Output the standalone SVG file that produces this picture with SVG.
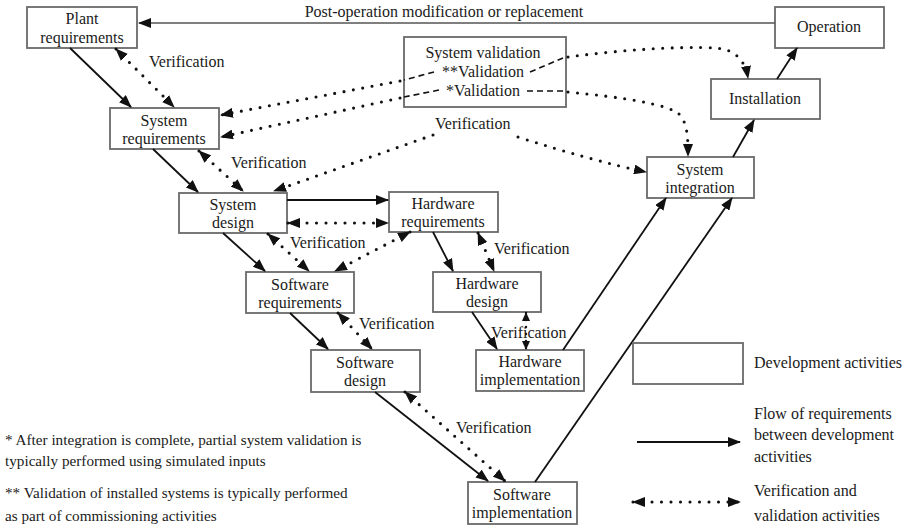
<svg xmlns="http://www.w3.org/2000/svg" width="913" height="528" viewBox="0 0 913 528">
<style>
.box{fill:#fff;stroke:#6a6a6a;stroke-width:1.8}
.t{font-family:"Liberation Serif","Times New Roman",serif;font-size:16px;fill:#1a1a1a;text-anchor:middle}
.l{text-anchor:start}
.fn{font-size:15.2px}
.flow{stroke:#111;stroke-width:1.8;fill:none;marker-end:url(#ah)}
.dot{stroke:#111;stroke-width:3.1;stroke-linecap:round;stroke-dasharray:0 9.5;fill:none}
.v2{marker-start:url(#dh);marker-end:url(#dh)}
.v1{marker-end:url(#dh)}
.dash{stroke:#111;stroke-width:1.6;stroke-dasharray:6 4;fill:none}
</style>
<defs>
<marker id="ah" markerUnits="userSpaceOnUse" markerWidth="14" markerHeight="10" refX="12" refY="5" orient="auto"><path d="M0,0 L13,5 L0,10 z" fill="#111"/></marker>
<marker id="dh" markerUnits="userSpaceOnUse" markerWidth="14" markerHeight="10" refX="12" refY="5" orient="auto-start-reverse"><path d="M0,0 L13,5 L0,10 z" fill="#111"/></marker>
<marker id="dhs" markerUnits="userSpaceOnUse" markerWidth="9" markerHeight="8" refX="8" refY="4" orient="auto-start-reverse"><path d="M0,0 L9,4 L0,8 z" fill="#111"/></marker>
</defs>

<g id="plant-requirements"><rect class="box" x="27" y="7" width="110" height="41"/><text class="t" x="82" y="24">Plant</text><text class="t" x="82" y="43">requirements</text></g>
<g id="system-requirements"><rect class="box" x="110" y="108" width="109" height="41"/><text class="t" x="164" y="126">System</text><text class="t" x="164" y="144">requirements</text></g>
<g id="system-design"><rect class="box" x="179" y="193" width="108" height="40"/><text class="t" x="233" y="210">System</text><text class="t" x="233" y="228">design</text></g>
<g id="hardware-requirements"><rect class="box" x="389" y="192" width="109" height="40"/><text class="t" x="443" y="209">Hardware</text><text class="t" x="443" y="227">requirements</text></g>
<g id="software-requirements"><rect class="box" x="246" y="272" width="108" height="41"/><text class="t" x="300" y="290">Software</text><text class="t" x="300" y="308">requirements</text></g>
<g id="hardware-design"><rect class="box" x="433" y="272" width="108" height="40"/><text class="t" x="487" y="289">Hardware</text><text class="t" x="487" y="307">design</text></g>
<g id="hardware-implementation"><rect class="box" x="476" y="350" width="108" height="41"/><text class="t" x="530" y="367">Hardware</text><text class="t" x="530" y="385">implementation</text></g>
<g id="software-design"><rect class="box" x="311" y="350" width="109" height="42"/><text class="t" x="365" y="368">Software</text><text class="t" x="365" y="386">design</text></g>
<g id="software-implementation"><rect class="box" x="468" y="482" width="109" height="42"/><text class="t" x="522" y="500">Software</text><text class="t" x="522" y="518">implementation</text></g>
<g id="system-integration"><rect class="box" x="647" y="157" width="107" height="41"/><text class="t" x="700" y="175">System</text><text class="t" x="700" y="193">integration</text></g>
<g id="installation"><rect class="box" x="711" y="79" width="109" height="40"/><text class="t" x="765" y="104">Installation</text></g>
<g id="operation"><rect class="box" x="775" y="7" width="109" height="41"/><text class="t" x="829" y="32">Operation</text></g>
<g id="system-validation"><rect class="box" x="404" y="37" width="162" height="70"/><text class="t" x="483" y="58">System validation</text><text class="t" x="483" y="77">**Validation</text><text class="t" x="483" y="96">*Validation</text></g>

<g id="connectors">
  <line x1="775" y1="23" x2="139" y2="23" stroke="#555" stroke-width="1.3" marker-end="url(#ah)"/>
  <line class="flow" x1="70" y1="48" x2="131" y2="107"/>
  <line class="flow" x1="153" y1="149" x2="198" y2="192"/>
  <line class="flow" x1="287" y1="200" x2="388" y2="200"/>
  <line class="flow" x1="223" y1="233" x2="265" y2="271"/>
  <line class="flow" x1="290" y1="313" x2="328" y2="349"/>
  <line class="flow" x1="375" y1="392" x2="488" y2="481"/>
  <line class="flow" x1="433" y1="232" x2="453" y2="271"/>
  <line class="flow" x1="472" y1="312" x2="497" y2="349"/>
  <line class="flow" x1="563" y1="350" x2="666" y2="198" stroke-width="1.5"/>
  <line class="flow" x1="535" y1="482" x2="732" y2="198" stroke-width="1.5"/>
  <line class="flow" x1="733" y1="157" x2="754" y2="120"/>
  <line class="flow" x1="777" y1="79" x2="797" y2="48"/>
  <line class="dot v2" x1="116" y1="49" x2="174" y2="107"/>
  <line class="dot v2" x1="199" y1="151" x2="243" y2="191"/>
  <line class="dot v2" x1="288" y1="223" x2="388" y2="223"/>
  <line class="dot v2" x1="268" y1="234" x2="309" y2="271"/>
  <line class="dot v2" x1="410" y1="232" x2="335" y2="271"/>
  <line class="dot v2" x1="478" y1="233" x2="494" y2="271"/>
  <line x1="526" y1="313" x2="526" y2="349" stroke="#111" stroke-width="2.4" stroke-linecap="round" stroke-dasharray="0 7" marker-start="url(#dhs)" marker-end="url(#dhs)"/>
  <line class="dot v2" x1="338" y1="313" x2="372" y2="349"/>
  <line class="dot v2" x1="405" y1="392" x2="505" y2="481"/>
  <line class="dot v1" x1="433" y1="135" x2="274" y2="191"/>
  <path class="dot v1" d="M518,137 Q590,160 646,172"/>
  <line class="dash" x1="434" y1="72" x2="404" y2="80"/>
  <line class="dot v1" x1="400" y1="81" x2="221" y2="115"/>
  <line class="dash" x1="439" y1="90" x2="404" y2="97"/>
  <line class="dot v1" x1="400" y1="98" x2="221" y2="137"/>
  <line class="dash" x1="530" y1="72" x2="563" y2="58"/>
  <path class="dot v1" d="M568,57 C620,50 680,46 715,48 C735,49 745,60 748,78"/>
  <line class="dash" x1="527" y1="91" x2="563" y2="91"/>
  <path class="dot v1" d="M568,92 C620,97 668,104 679,114 C688,123 688,140 688,156"/>
  <line class="flow" x1="637" y1="442" x2="740" y2="442"/>
  <line class="dot v2" x1="633" y1="502" x2="740" y2="502"/>
</g>

<g id="labels">
  <text class="t" x="444" y="17">Post-operation modification or replacement</text>
  <text class="t l" x="149" y="67">Verification</text>
  <text class="t l" x="231" y="168">Verification</text>
  <text class="t l" x="435" y="129">Verification</text>
  <text class="t l" x="290" y="248">Verification</text>
  <text class="t l" x="494" y="254">Verification</text>
  <text class="t l" x="491" y="338">Verification</text>
  <text class="t l" x="359" y="329">Verification</text>
  <text class="t l" x="456" y="433">Verification</text>
</g>

<g id="legend">
  <rect class="box" x="633" y="343" width="110" height="41"/>
  <text class="t l" x="754" y="368">Development activities</text>
  <text class="t l" x="754" y="419">Flow of requirements</text>
  <text class="t l" x="754" y="440">between development</text>
  <text class="t l" x="754" y="462">activities</text>
  <text class="t l" x="754" y="496">Verification and</text>
  <text class="t l" x="754" y="521">validation activities</text>
</g>

<g id="footnotes">
  <text class="t l fn" x="5" y="445">* After integration is complete, partial system validation is</text>
  <text class="t l fn" x="5" y="466">typically performed using simulated inputs</text>
  <text class="t l fn" x="5" y="498">** Validation of installed systems is typically performed</text>
  <text class="t l fn" x="5" y="521">as part of commissioning activities</text>
</g>
</svg>
